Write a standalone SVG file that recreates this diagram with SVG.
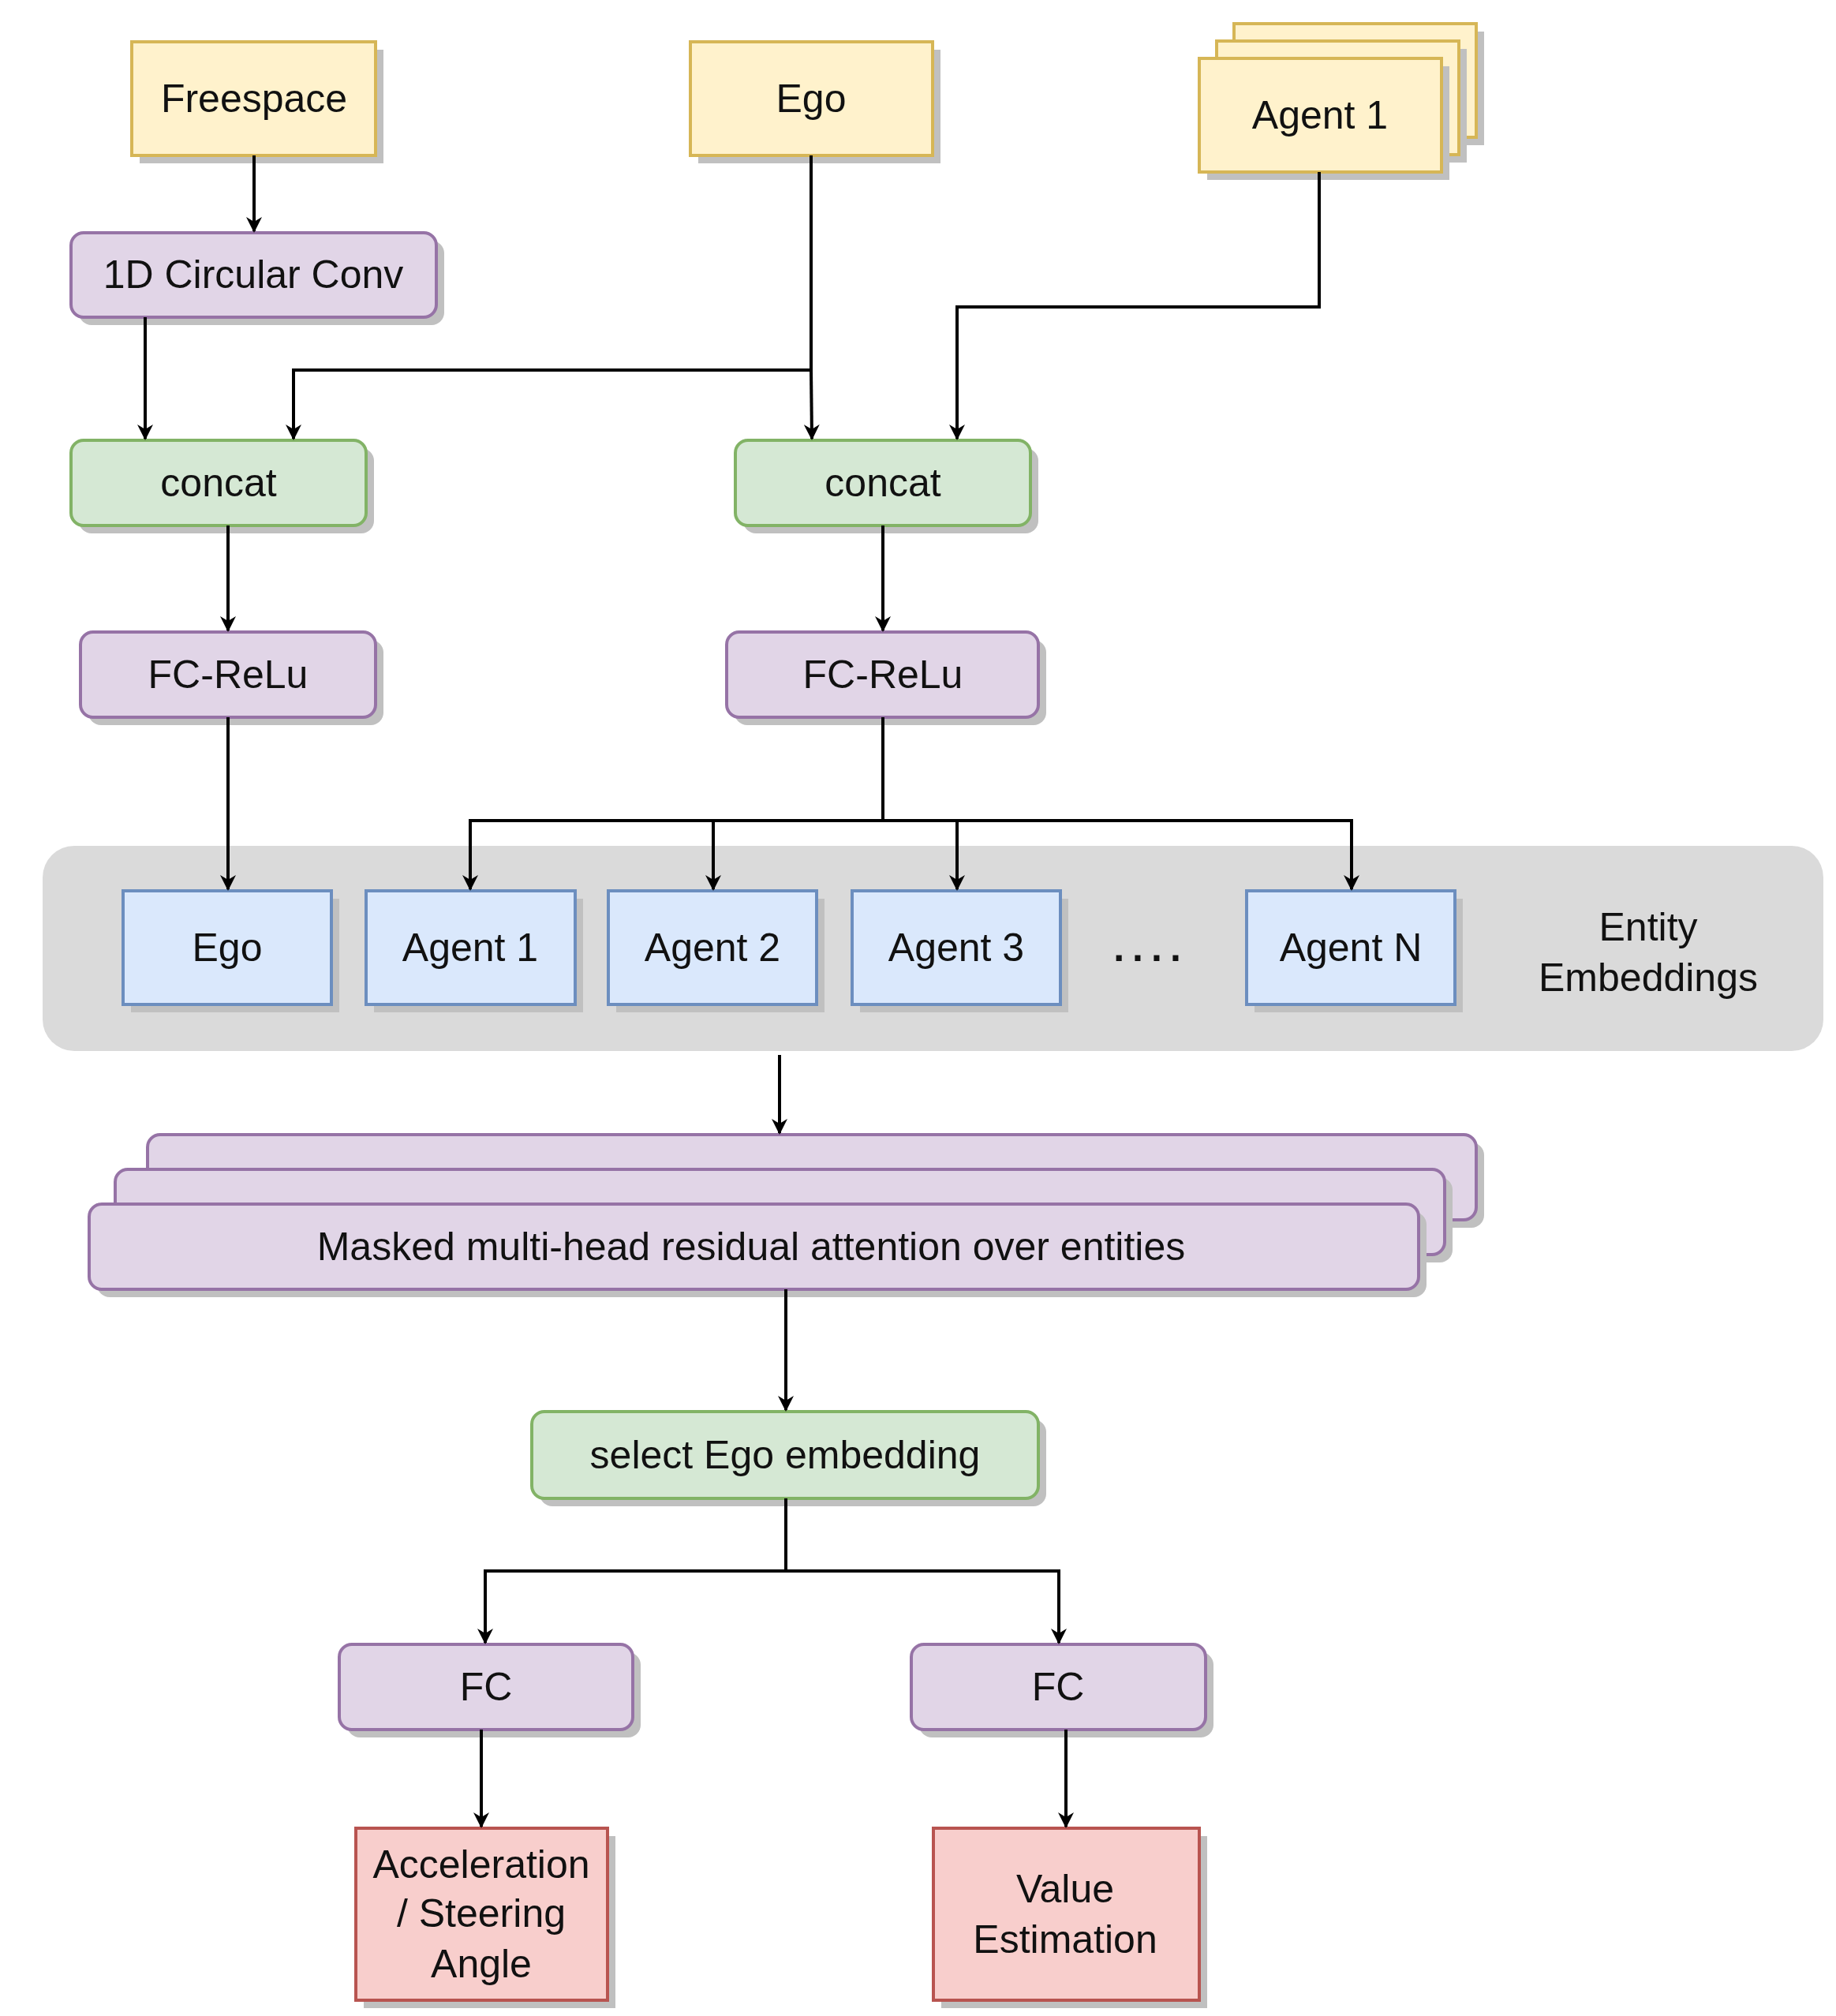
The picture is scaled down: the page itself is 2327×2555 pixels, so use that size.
<svg xmlns="http://www.w3.org/2000/svg" width="2327" height="2555" viewBox="0 0 2327 2555">
<style>
text{font-family:"Liberation Sans",Arial,sans-serif;font-size:50px;fill:#111;text-anchor:middle;dominant-baseline:central}
.y{fill:#fff2cc;stroke:#d6b656;stroke-width:4}
.p{fill:#e1d5e7;stroke:#9673a6;stroke-width:4}
.g{fill:#d5e8d4;stroke:#82b366;stroke-width:4}
.b{fill:#dae8fc;stroke:#6c8ebf;stroke-width:4}
.r{fill:#f8cecc;stroke:#b85450;stroke-width:4}
.s{fill:#c0c0c0}
.c path{fill:none;stroke:#000;stroke-width:4}
</style>
<defs>
<marker id="a" viewBox="0 0 10 10" refX="9" refY="5" markerWidth="5" markerHeight="5" markerUnits="strokeWidth" orient="auto">
<path d="M0,0 L10,5 L0,10 L3,5 Z" fill="#000"/>
</marker>
</defs>
<rect x="54" y="1072" width="2257" height="260" rx="40" fill="#dadada"/>
<g id="n-freespace"><rect class="s" x="177" y="63" width="309" height="144"/><rect class="y" x="167" y="53" width="309" height="144"/><text x="322" y="125">Freespace</text></g>
<g id="n-ego-in"><rect class="s" x="885" y="63" width="307" height="144"/><rect class="y" x="875" y="53" width="307" height="144"/><text x="1028" y="125">Ego</text></g>
<g id="n-agent-in">
<rect class="s" x="1574" y="40" width="307" height="144"/><rect class="y" x="1564" y="30" width="307" height="144"/>
<rect class="s" x="1552" y="62" width="307" height="144"/><rect class="y" x="1542" y="52" width="307" height="144"/>
<rect class="s" x="1530" y="84" width="307" height="144"/><rect class="y" x="1520" y="74" width="307" height="144"/>
<text x="1673" y="146">Agent 1</text></g>
<g id="n-conv"><rect class="s" x="100" y="305" width="463" height="107" rx="16"/><rect class="p" x="90" y="295" width="463" height="107" rx="16"/><text x="321" y="348">1D Circular Conv</text></g>
<g id="n-concat1"><rect class="s" x="100" y="568" width="374" height="108" rx="16"/><rect class="g" x="90" y="558" width="374" height="108" rx="16"/><text x="277" y="612">concat</text></g>
<g id="n-concat2"><rect class="s" x="942" y="568" width="374" height="108" rx="16"/><rect class="g" x="932" y="558" width="374" height="108" rx="16"/><text x="1119" y="612">concat</text></g>
<g id="n-fc1"><rect class="s" x="112" y="811" width="374" height="108" rx="16"/><rect class="p" x="102" y="801" width="374" height="108" rx="16"/><text x="289" y="855">FC-ReLu</text></g>
<g id="n-fc2"><rect class="s" x="931" y="811" width="395" height="108" rx="16"/><rect class="p" x="921" y="801" width="395" height="108" rx="16"/><text x="1119" y="855">FC-ReLu</text></g>
<g id="n-e-ego"><rect class="s" x="166" y="1139" width="264" height="144"/><rect class="b" x="156" y="1129" width="264" height="144"/><text x="288" y="1201">Ego</text></g>
<g id="n-e-a1"><rect class="s" x="474" y="1139" width="265" height="144"/><rect class="b" x="464" y="1129" width="265" height="144"/><text x="596" y="1201">Agent 1</text></g>
<g id="n-e-a2"><rect class="s" x="781" y="1139" width="264" height="144"/><rect class="b" x="771" y="1129" width="264" height="144"/><text x="903" y="1201">Agent 2</text></g>
<g id="n-e-a3"><rect class="s" x="1090" y="1139" width="264" height="144"/><rect class="b" x="1080" y="1129" width="264" height="144"/><text x="1212" y="1201">Agent 3</text></g>
<g id="n-dots"><text x="1459" y="1201" style="font-weight:bold;letter-spacing:10px">....</text></g>
<g id="n-e-an"><rect class="s" x="1590" y="1139" width="264" height="144"/><rect class="b" x="1580" y="1129" width="264" height="144"/><text x="1712" y="1201">Agent N</text></g>
<g id="n-entity"><text x="2089" y="1175">Entity</text><text x="2089" y="1239">Embeddings</text></g>
<g id="n-attn">
<rect class="s" x="197" y="1448" width="1684" height="108" rx="16"/><rect class="p" x="187" y="1438" width="1684" height="108" rx="16"/>
<rect class="s" x="156" y="1492" width="1685" height="108" rx="16"/><rect class="p" x="146" y="1482" width="1685" height="108" rx="16"/>
<rect class="s" x="123" y="1536" width="1685" height="108" rx="16"/><rect class="p" x="113" y="1526" width="1685" height="108" rx="16"/>
<text x="952" y="1580">Masked multi-head residual attention over entities</text></g>
<g id="n-select"><rect class="s" x="684" y="1799" width="642" height="110" rx="16"/><rect class="g" x="674" y="1789" width="642" height="110" rx="16"/><text x="995" y="1844">select Ego embedding</text></g>
<g id="n-fcA"><rect class="s" x="440" y="2094" width="372" height="108" rx="16"/><rect class="p" x="430" y="2084" width="372" height="108" rx="16"/><text x="616" y="2138">FC</text></g>
<g id="n-fcB"><rect class="s" x="1165" y="2094" width="373" height="108" rx="16"/><rect class="p" x="1155" y="2084" width="373" height="108" rx="16"/><text x="1341" y="2138">FC</text></g>
<g id="n-acc"><rect class="s" x="461" y="2327" width="319" height="218"/><rect class="r" x="451" y="2317" width="319" height="218"/><text x="610" y="2363">Acceleration</text><text x="610" y="2425">/ Steering</text><text x="610" y="2489">Angle</text></g>
<g id="n-val"><rect class="s" x="1193" y="2327" width="337" height="218"/><rect class="r" x="1183" y="2317" width="337" height="218"/><text x="1350" y="2394">Value</text><text x="1350" y="2458">Estimation</text></g>
<g class="c" id="connectors">
<path d="M322,197 V293" marker-end="url(#a)"/>
<path d="M184,402 V556" marker-end="url(#a)"/>
<path d="M1028,197 V469 H372 V556" marker-end="url(#a)"/>
<path d="M1028,469 L1029,556" marker-end="url(#a)"/>
<path d="M1672,218 V389 H1213 V556" marker-end="url(#a)"/>
<path d="M289,666 V799" marker-end="url(#a)"/>
<path d="M1119,666 V799" marker-end="url(#a)"/>
<path d="M289,909 V1127" marker-end="url(#a)"/>
<path d="M1119,909 V1040 H596 V1127" marker-end="url(#a)"/>
<path d="M904,1040 V1127" marker-end="url(#a)"/>
<path d="M1213,1040 V1127" marker-end="url(#a)"/>
<path d="M1119,1040 H1713 V1127" marker-end="url(#a)"/>
<path d="M988,1337 V1436" marker-end="url(#a)"/>
<path d="M996,1634 V1787" marker-end="url(#a)"/>
<path d="M996,1899 V1991 H615 V2082" marker-end="url(#a)"/>
<path d="M996,1991 H1342 V2082" marker-end="url(#a)"/>
<path d="M610,2192 V2315" marker-end="url(#a)"/>
<path d="M1351,2192 V2315" marker-end="url(#a)"/>
</g>
</svg>
